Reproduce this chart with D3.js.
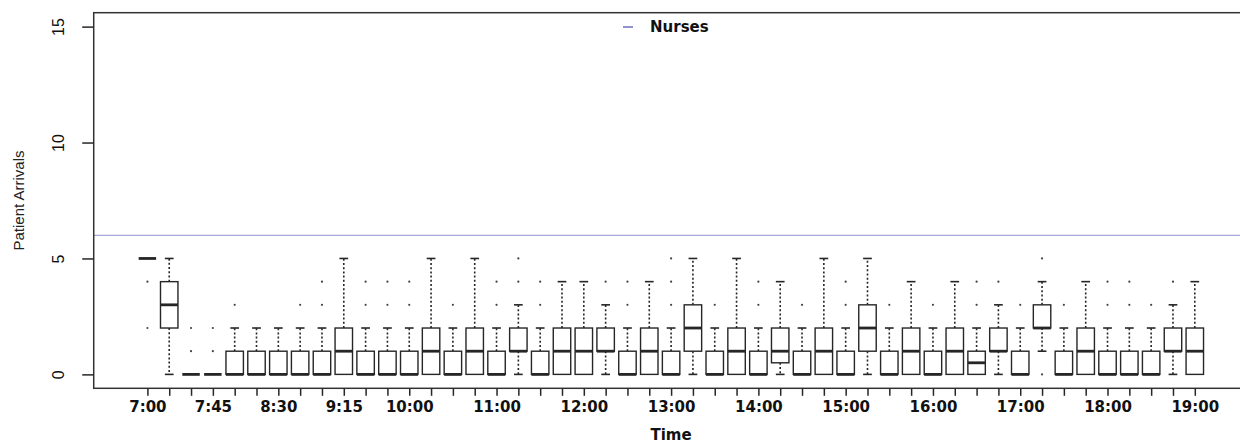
<!DOCTYPE html>
<html>
<head>
<meta charset="utf-8">
<script src="https://cdn.jsdelivr.net/npm/d3@7"></script>
<style>
  html, body { margin: 0; padding: 0; background: #fff; }
  svg { display: block; }
</style>
</head>
<body>
<svg id="chart" width="1240" height="445"></svg>
<script>
// Fifteen-minute slots from 7:00 to 19:00
const times = ["7:00","7:15","7:30","7:45","8:00","8:15","8:30","8:45","9:00","9:15","9:30","9:45",
  "10:00","10:15","10:30","10:45","11:00","11:15","11:30","11:45","12:00","12:15","12:30","12:45",
  "13:00","13:15","13:30","13:45","14:00","14:15","14:30","14:45","15:00","15:15","15:30","15:45",
  "16:00","16:15","16:30","16:45","17:00","17:15","17:30","17:45","18:00","18:15","18:30","18:45","19:00"];

// Box statistics of patient arrivals per slot
const whiskerLow  = [5,0,0,0,0,0,0,0,0,0,0,0,0,0,0,0,0,0,0,0,0,0,0,0,0,0,0,0,0,0,0,0,0,0,0,0,0,0,0,0,0,1,0,0,0,0,0,0,0];
const lowerQ      = [5,2,0,0,0,0,0,0,0,0,0,0,0,0,0,0,0,1,0,0,0,1,0,0,0,1,0,0,0,0.5,0,0,0,1,0,0,0,0,0,1,0,2,0,0,0,0,0,1,0];
const medians     = [5,3,0,0,0,0,0,0,0,1,0,0,0,1,0,1,0,1,0,1,1,1,0,1,0,2,0,1,0,1,0,1,0,2,0,1,0,1,0.5,1,0,2,0,1,0,0,0,1,1];
const upperQ      = [5,4,0,0,1,1,1,1,1,2,1,1,1,2,1,2,1,2,1,2,2,2,1,2,1,3,1,2,1,2,1,2,1,3,1,2,1,2,1,2,1,3,1,2,1,1,1,2,2];
const whiskerHigh = [5,5,0,0,2,2,2,2,2,5,2,2,2,5,2,5,2,3,2,4,4,3,2,4,2,5,2,5,2,4,2,5,2,5,2,4,2,4,2,3,2,4,2,4,2,2,2,3,4];
const outliers    = [[4,2],[],[2,1],[2,1],[3],[],[],[3],[3,4],[],[3,4],[3,4],[3,4],[],[3],[],[3,4],[4,5],[3,4],[],[],[4],[3,4],[],
  [3,4,5],[],[3],[],[3,4],[],[3],[],[3,4],[],[3],[],[3],[],[3,4],[4],[3],[5,0],[3],[],[3,4],[3,4],[3],[4],[]];

// Staffing level drawn as a reference line
const nurses = 6;
const nurseLabel = "Nurses";

// Axis tick labels
const xTickLabels = ["7:00","7:45","8:30","9:15","10:00","11:00","12:00","13:00","14:00","15:00","16:00","17:00","18:00","19:00"];
const yTicks = [0, 5, 10, 15];

const svg = d3.select("#chart");
const ink = "#262626";

const x = d3.scalePoint().domain(times).range([147.4, 1194.8]);
const step = x.step();
const frameLeft = x(times[0]) - 2.46 * step;
const frameRight = x(times[times.length - 1]) + 2.46 * step;
const y = d3.scaleLinear().domain([-0.6, 15.6]).range([388.3, 12.7]);
const boxW = 0.8 * step;
const capW = 0.4 * step;

// nurse staffing line
svg.append("line")
  .attr("x1", frameLeft).attr("x2", frameRight)
  .attr("y1", y(nurses)).attr("y2", y(nurses))
  .attr("stroke", "#a9a9d9").attr("stroke-width", 1.2);

// boxes
const data = times.map((t, i) => ({
  t, lo: whiskerLow[i], q1: lowerQ[i], med: medians[i], q3: upperQ[i], hi: whiskerHigh[i], out: outliers[i]
}));

const g = svg.append("g");
const box = g.selectAll("g.box").data(data).join("g").attr("class", "box")
  .attr("transform", d => `translate(${x(d.t)},0)`);

// whiskers
box.filter(d => d.hi > d.q3).append("line")
  .attr("x1", 0).attr("x2", 0).attr("y1", d => y(d.q3)).attr("y2", d => y(d.hi))
  .attr("stroke", ink).attr("stroke-width", 1.6).attr("stroke-dasharray", "2,2.2");
box.filter(d => d.lo < d.q1).append("line")
  .attr("x1", 0).attr("x2", 0).attr("y1", d => y(d.q1)).attr("y2", d => y(d.lo))
  .attr("stroke", ink).attr("stroke-width", 1.6).attr("stroke-dasharray", "2,2.2");
// staples
box.filter(d => d.hi > d.q3).append("line")
  .attr("x1", -capW / 2).attr("x2", capW / 2).attr("y1", d => y(d.hi)).attr("y2", d => y(d.hi))
  .attr("stroke", ink).attr("stroke-width", 1.6);
box.filter(d => d.lo < d.q1).append("line")
  .attr("x1", -capW / 2).attr("x2", capW / 2).attr("y1", d => y(d.lo)).attr("y2", d => y(d.lo))
  .attr("stroke", ink).attr("stroke-width", 1.6);
// box bodies
box.filter(d => d.q3 > d.q1).append("rect")
  .attr("x", -boxW / 2).attr("width", boxW)
  .attr("y", d => y(d.q3)).attr("height", d => y(d.q1) - y(d.q3))
  .attr("fill", "#fff").attr("stroke", ink).attr("stroke-width", 1.4);
// medians
box.append("line")
  .attr("x1", -boxW / 2).attr("x2", boxW / 2)
  .attr("y1", d => y(d.med)).attr("y2", d => y(d.med))
  .attr("stroke", ink).attr("stroke-width", 2.8);
// outliers
box.selectAll("circle").data(d => d.out).join("circle")
  .attr("cx", 0).attr("cy", v => y(v)).attr("r", 1.1).attr("fill", "#444");

// frame
svg.append("rect")
  .attr("x", frameLeft).attr("y", y.range()[1])
  .attr("width", frameRight - frameLeft).attr("height", y.range()[0] - y.range()[1])
  .attr("fill", "none").attr("stroke", "#333").attr("stroke-width", 1.5);

// x axis
const xAxis = d3.axisBottom(x).tickSize(7.5).tickPadding(5)
  .tickFormat(t => xTickLabels.includes(t) ? t : "");
const gx = svg.append("g").attr("transform", `translate(0,${y.range()[0]})`).call(xAxis);
gx.select(".domain").remove();
gx.selectAll(".tick line").attr("stroke", ink).attr("stroke-width", 1.5);
gx.selectAll(".tick text").attr("fill", "#111")
  .style("font-family", "'DejaVu Sans', sans-serif").style("font-weight", "bold").style("font-size", "15px")
  .attr("dy", "0.72em");

// y axis
const yAxis = d3.axisLeft(y).tickValues(yTicks).tickSize(11.5).tickPadding(0).tickFormat(d3.format("d"));
const gy = svg.append("g").attr("transform", `translate(${frameLeft},0)`).call(yAxis);
gy.select(".domain").remove();
gy.selectAll(".tick line").attr("stroke", ink).attr("stroke-width", 1.5);
gy.selectAll(".tick text")
  .attr("x", 0).attr("dy", 0)
  .attr("transform", "translate(-35,0) rotate(-90)")
  .attr("text-anchor", "middle").attr("dominant-baseline", "central")
  .attr("fill", "#111")
  .style("font-family", "'Liberation Sans', Arial, sans-serif").style("font-size", "16px");

// axis titles
svg.append("text")
  .attr("x", (frameLeft + frameRight) / 2).attr("y", 440)
  .attr("text-anchor", "middle").attr("fill", "#111")
  .style("font-family", "'DejaVu Sans', sans-serif").style("font-weight", "bold").style("font-size", "15px")
  .text("Time");
svg.append("text")
  .attr("transform", `translate(18,${(y.range()[0] + y.range()[1]) / 2}) rotate(-90)`)
  .attr("text-anchor", "middle").attr("dominant-baseline", "central").attr("fill", "#222")
  .style("font-family", "'Liberation Sans', Arial, sans-serif").style("font-size", "15px")
  .text("Patient Arrivals");

// legend
const legend = svg.append("g").attr("transform", "translate(623,27)");
legend.append("line").attr("x1", 0).attr("x2", 10).attr("y1", 0).attr("y2", 0)
  .attr("stroke", "#7676c4").attr("stroke-width", 1.6);
legend.append("text").attr("x", 27).attr("y", 0).attr("dominant-baseline", "central")
  .attr("fill", "#111")
  .style("font-family", "'DejaVu Sans', sans-serif").style("font-weight", "bold").style("font-size", "15px")
  .text(nurseLabel);
</script>
</body>
</html>
